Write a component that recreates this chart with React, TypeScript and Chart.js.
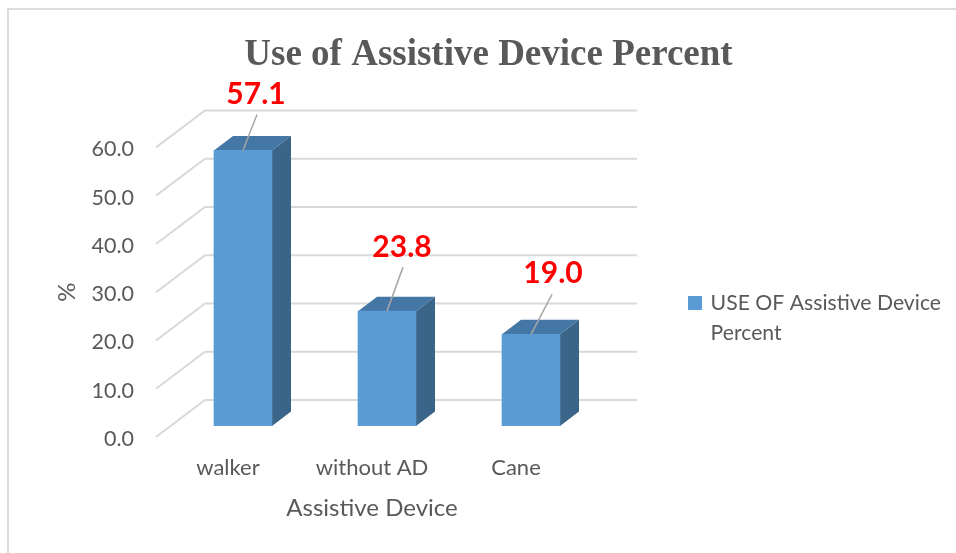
import React, { useEffect, useRef } from "react";
import { Chart, registerables } from "chart.js";

Chart.register(...registerables);

const categories = ["walker", "without AD", "Cane"];
const percentValues = [57.1, 23.8, 19.0];
const seriesLegendLines = ["USE OF Assistive Device", "Percent"];
const chartTitle = "Use of Assistive Device Percent";
const xAxisTitle = "Assistive Device";
const yAxisTitle = "%";

const UI_FONT = "Lato, 'Open Sans', sans-serif";
const TEXT = "#595959";
const GRID = "#D9D9D9";
const FRONT = "#5B9BD5";
const TOP = "#4577A6";
const SIDE = "#3A6488";

// Oblique projection: floor depth of the wall, and of the bars placed within it.
const WALL = { dx: 49, dy: -37 };
const BAR_PLANE = { dx: 15, dy: -11 };
const BAR_DEPTH = { dx: 19, dy: -14.5 };
// Where each value label sits relative to the centre of its bar's top edge.
const LABEL_OFFSETS = [
  { tx: 13, ty: -56, lx: 14, ly: -36 },
  { tx: 15, ty: -64, lx: 16, ly: -44 },
  { tx: 22, ty: -61, lx: 21, ly: -40 },
];
const LEGEND_LEFT = 681;
const LEGEND_SHIFT_Y = 40;

const legendPlacement = {
  id: "legendPlacement",
  afterLayout(chart: any) {
    const legend = chart.legend;
    const dx = LEGEND_LEFT - legend.left;
    legend.left += dx;
    legend.right += dx;
    legend.top += LEGEND_SHIFT_Y;
    legend.bottom += LEGEND_SHIFT_Y;
  },
};

const walls = {
  id: "walls",
  beforeDatasetsDraw(chart: any) {
    const { ctx, chartArea, scales } = chart;
    ctx.save();
    ctx.strokeStyle = GRID;
    ctx.lineWidth = 2;
    for (const tick of scales.y.ticks) {
      const y = scales.y.getPixelForValue(tick.value);
      ctx.beginPath();
      ctx.moveTo(chartArea.left, y);
      ctx.lineTo(chartArea.left + WALL.dx, y + WALL.dy);
      ctx.lineTo(chartArea.right + WALL.dx, y + WALL.dy);
      ctx.stroke();
    }
    ctx.restore();
  },
};

const frame = {
  id: "frame",
  beforeDraw(chart: any) {
    const { ctx, width, height } = chart;
    ctx.save();
    ctx.fillStyle = "#FFFFFF";
    ctx.fillRect(0, 0, width, height);
    ctx.strokeStyle = "#DCDCDC";
    ctx.lineWidth = 2;
    ctx.beginPath();
    ctx.moveTo(8, height);
    ctx.lineTo(8, 9);
    ctx.lineTo(width, 9);
    ctx.stroke();
    ctx.restore();
  },
};

// Shifts the library's bars back onto their plane and adds the top and side faces behind them.
const bars3d = {
  id: "bars3d",
  beforeDatasetDraw(chart: any) {
    const { ctx } = chart;
    const meta = chart.getDatasetMeta(0);
    ctx.save();
    ctx.translate(BAR_PLANE.dx, BAR_PLANE.dy);
    for (const bar of meta.data) {
      const left = bar.x - bar.width / 2;
      const right = bar.x + bar.width / 2;
      const { y, base } = bar;
      ctx.fillStyle = TOP;
      ctx.beginPath();
      ctx.moveTo(left, y);
      ctx.lineTo(left + BAR_DEPTH.dx, y + BAR_DEPTH.dy);
      ctx.lineTo(right + BAR_DEPTH.dx, y + BAR_DEPTH.dy);
      ctx.lineTo(right, y);
      ctx.closePath();
      ctx.fill();
      ctx.fillStyle = SIDE;
      ctx.beginPath();
      ctx.moveTo(right, y);
      ctx.lineTo(right + BAR_DEPTH.dx, y + BAR_DEPTH.dy);
      ctx.lineTo(right + BAR_DEPTH.dx, base + BAR_DEPTH.dy);
      ctx.lineTo(right, base);
      ctx.closePath();
      ctx.fill();
    }
  },
  afterDatasetDraw(chart: any) {
    chart.ctx.restore();
  },
};

const valueLabels = {
  id: "valueLabels",
  afterDatasetsDraw(chart: any) {
    const { ctx } = chart;
    const meta = chart.getDatasetMeta(0);
    ctx.save();
    meta.data.forEach((bar: any, i: number) => {
      const cx = bar.x + BAR_PLANE.dx;
      const cy = bar.y + BAR_PLANE.dy;
      const o = LABEL_OFFSETS[i];
      ctx.strokeStyle = "#A6A6A6";
      ctx.lineWidth = 1.5;
      ctx.beginPath();
      ctx.moveTo(cx, cy);
      ctx.lineTo(cx + o.lx, cy + o.ly);
      ctx.stroke();
      ctx.fillStyle = "#FF0000";
      ctx.font = `bold 30px ${UI_FONT}`;
      ctx.textAlign = "center";
      ctx.textBaseline = "middle";
      ctx.fillText(percentValues[i].toFixed(1), cx + o.tx, cy + o.ty);
    });
    ctx.restore();
  },
};

export default function App() {
  const ref = useRef<HTMLCanvasElement>(null);

  useEffect(() => {
    const chart = new Chart(ref.current!, {
      type: "bar",
      data: {
        labels: categories,
        datasets: [
          {
            label: seriesLegendLines.join(" "),
            data: percentValues,
            backgroundColor: FRONT,
            borderWidth: 0,
            barThickness: 58,
          },
        ],
      },
      plugins: [legendPlacement, frame, walls, bars3d, valueLabels],
      options: {
        animation: false,
        responsive: false,
        devicePixelRatio: 1,
        layout: { padding: { left: 31, right: 10, top: 33, bottom: 30 } },
        plugins: {
          tooltip: { enabled: false },
          title: {
            display: true,
            text: chartTitle,
            color: TEXT,
            font: { family: "'Liberation Serif', serif", size: 37, weight: "bold" },
            padding: { top: 0, bottom: 70 },
            align: "center",
          },
          legend: {
            position: "right",
            maxWidth: 300,
            labels: {
              color: TEXT,
              font: { family: UI_FONT, size: 21.2 },
              boxWidth: 10,
              boxHeight: 10,
              padding: 9,
              generateLabels: () =>
                seriesLegendLines.map((text, i) => ({
                  text,
                  fontColor: TEXT,
                  fillStyle: i === 0 ? FRONT : "rgba(0,0,0,0)",
                  strokeStyle: i === 0 ? FRONT : "rgba(0,0,0,0)",
                  lineWidth: 4,
                  hidden: false,
                  datasetIndex: 0,
                })),
            },
          },
        },
        scales: {
          x: {
            grid: { display: false },
            border: { display: false },
            afterFit: (s: any) => {
              s.height = 86;
            },
            ticks: { color: TEXT, font: { family: UI_FONT, size: 22 }, padding: 10 },
            title: {
              display: true,
              text: xAxisTitle,
              color: TEXT,
              font: { family: UI_FONT, size: 24 },
              padding: { top: 10, bottom: 0 },
            },
          },
          y: {
            min: 0,
            max: 60,
            grid: { display: false },
            border: { display: false },
            afterFit: (s: any) => {
              s.width = 125;
            },
            ticks: {
              stepSize: 10,
              color: TEXT,
              font: { family: UI_FONT, size: 21.5 },
              padding: 14,
              labelOffset: 2,
              callback: (v: any) => Number(v).toFixed(1),
            },
            title: {
              display: true,
              text: yAxisTitle,
              color: TEXT,
              font: { family: UI_FONT, size: 24 },
              padding: { top: 22, bottom: 10 },
            },
          },
          // Reserves the empty band between the plot and the legend.
          gutter: {
            axis: "y",
            position: "right",
            display: true,
            grid: { display: false },
            border: { display: false },
            ticks: { display: false },
            afterFit: (s: any) => {
              s.width = 88;
            },
          },
        },
      },
    } as any);
    return () => chart.destroy();
  }, []);

  return (
    <div style={{ position: "fixed", left: 0, top: 0, width: 956, height: 553 }}>
      <canvas ref={ref} width={956} height={553} style={{ display: "block" }} />
    </div>
  );
}
